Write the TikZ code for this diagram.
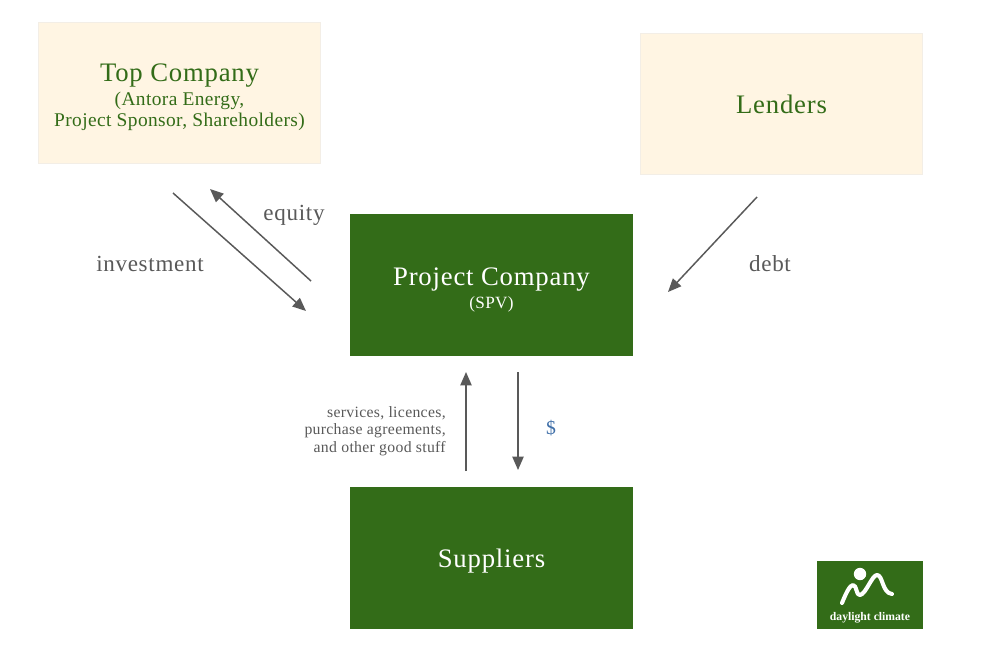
\documentclass[tikz,border=0pt]{standalone}
\usepackage{fontspec}
\setmainfont{Liberation Serif}
\usetikzlibrary{arrows.meta,positioning}
\definecolor{darkgreen}{HTML}{336C18}
\definecolor{cream}{HTML}{FFF5E3}
\definecolor{creamedge}{HTML}{F3EEE6}
\definecolor{arrowgrey}{HTML}{595959}
\definecolor{dollarblue}{HTML}{3F6FA8}
\tikzset{
  lightbox/.style={draw=creamedge, fill=cream, text=darkgreen, minimum width=7.05cm, minimum height=3.53cm, align=center, inner sep=0pt, font=\fontsize{13.8}{15}\selectfont},
  darkbox/.style={fill=darkgreen, text=white, minimum width=7.075cm, minimum height=3.55cm, align=center, inner sep=0pt, font=\fontsize{13.8}{15}\selectfont},
  flow/.style={draw=arrowgrey, line width=1.05pt, -{Triangle[length=9.5pt,width=8pt]}},
  flowlabel/.style={text=arrowgrey, font=\fontsize{16.4}{18}\selectfont},
}
\newcommand{\boxtitle}{\fontsize{19}{21}\selectfont\addfontfeature{LetterSpace=3}}
\newcommand{\boxsub}{\addfontfeature{LetterSpace=2}}
\begin{document}
\begin{tikzpicture}[x=0.025cm,y=-0.025cm]
    \useasboundingbox (0,0) rectangle (984,669);

    \node[lightbox] (top) at (179.5,93) {\rule{0pt}{19pt}{\boxtitle Top Company}\\[2pt]{\boxsub (Antora Energy,}\\{\boxsub Project Sponsor, Shareholders)}};
    \node[lightbox, text depth=0pt] (lenders) at (781.5,104) {\boxtitle Lenders};
    \node[darkbox] (spv) at (491.5,285) {\rule{0pt}{20pt}{\boxtitle Project Company}\\[1.4pt]{\fontsize{12.2}{15}\selectfont\boxsub (SPV)}};
    \node[darkbox, text depth=0pt] (suppliers) at (491.5,558) {\boxtitle Suppliers};

    % arrows stop short of the boxes
    \coordinate (investstart) at (173,193);
    \coordinate (investend) at (306,311);
    \coordinate (equitystart) at (311,281);
    \coordinate (equityend) at (210,189);
    \coordinate (debtstart) at (757,197);
    \coordinate (debtend) at (668,292);
    \coordinate (servicestart) at (466,471);
    \coordinate (serviceend) at (466,372);
    \coordinate (paystart) at (518,372);
    \coordinate (payend) at (518,470);

    \draw[flow] (investstart) -- (investend);
    \draw[flow] (equitystart) -- (equityend);
    \draw[flow] (debtstart) -- (debtend);
    \draw[flow] (servicestart) -- (serviceend);
    \draw[flow] (paystart) -- (payend);

    \node[flowlabel] (investlabel) at (150,264) {\addfontfeature{LetterSpace=3}investment};
    \node[flowlabel] (equitylabel) at (294,215) {\addfontfeature{LetterSpace=3}equity};
    \node[flowlabel] (debtlabel) at (770,264) {\addfontfeature{LetterSpace=3}debt};
    \node[anchor=east, align=right, inner sep=0pt, text=arrowgrey, font=\fontsize{11.2}{12.4}\selectfont] (servicelabel) at (446,431) {\addfontfeature{LetterSpace=2}services, licences,\\\addfontfeature{LetterSpace=2}purchase agreements,\\\addfontfeature{LetterSpace=2}and other good stuff};
    \node[text=dollarblue, font=\fontsize{14}{15}\selectfont] (paylabel) at (551,428) {\$};

    % logo
    \node[fill=darkgreen, minimum width=2.65cm, minimum height=1.7cm, inner sep=0pt] (logo) at (870,595) {};
    \node[text=white, font=\bfseries\fontsize{8.3}{9}\selectfont] (logotext) at (870,617.5) {daylight climate};
    \fill[white] (860,574) circle (6.2);
    \draw[white, line width=2.9pt, line cap=round, line join=round] (842,603) .. controls (846,593) and (850,585) .. (853,585) .. controls (857,585) and (856,596) .. (860,595) .. controls (866,594) and (872,575) .. (877,575) .. controls (883,575) and (882,593) .. (892,594);
\end{tikzpicture}
\end{document}
